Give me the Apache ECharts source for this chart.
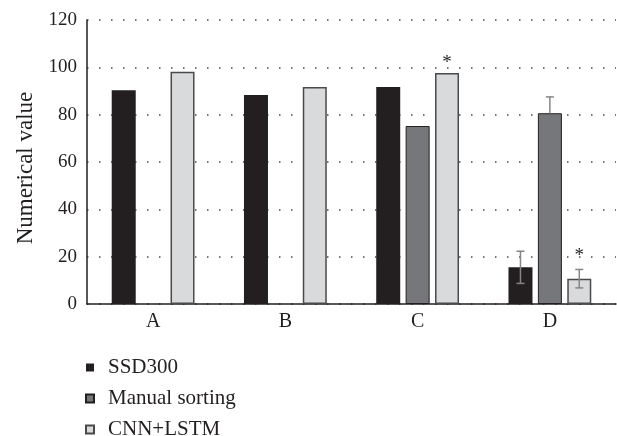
<!DOCTYPE html>
<html>
<head>
<meta charset="utf-8">
<script src="https://cdn.jsdelivr.net/npm/echarts@6/dist/echarts.min.js"></script>
<style>
  html, body { margin: 0; padding: 0; background: #fff; }
  #chart { width: 617px; height: 436px; }
</style>
</head>
<body>
<div id="chart"></div>
<script>
// Categories and values per method
const categories = ['A', 'B', 'C', 'D'];
const seriesNames = ['SSD300', 'Manual sorting', 'CNN+LSTM'];
const ssd300 = [90.3, 88.3, 91.7, 15.5];
const manualSorting = [null, null, 75.2, 80.6];
const cnnLstm = [98.1, 91.7, 97.6, 10.7];

// Error bar extents (below / above the bar value)
const ssd300ErrLow = [null, null, null, 6.8];
const ssd300ErrHigh = [null, null, null, 6.8];
const manualErrLow = [null, null, null, 0];
const manualErrHigh = [null, null, null, 6.9];
const cnnLstmErrLow = [null, null, null, 3.9];
const cnnLstmErrHigh = [null, null, null, 3.9];

// Significance marks over CNN+LSTM bars
const cnnLstmMarks = ['', '', '*', '*'];

const yTicks = { min: 0, max: 120, interval: 20 };

const FONT = '"Liberation Serif", "DejaVu Serif", serif';
const INK = '#231f20';
const BAR_W = 24;
const BAR_GAP = 0.225;

const colors = ['#231f20', '#76777a', '#d9dadc'];
const borders = [
  { borderColor: '#231f20', borderWidth: 0 },
  { borderColor: '#231f20', borderWidth: 1 },
  { borderColor: '#4a4a4a', borderWidth: 1.5 }
];

const values = [ssd300, manualSorting, cnnLstm];
const errLow = [ssd300ErrLow, manualErrLow, cnnLstmErrLow];
const errHigh = [ssd300ErrHigh, manualErrHigh, cnnLstmErrHigh];
const marks = [null, null, cnnLstmMarks];

const barSeries = seriesNames.map((name, i) => ({
  name: name,
  type: 'bar',
  data: values[i].map(v => (v == null ? '-' : v)),
  barWidth: BAR_W,
  barGap: (BAR_GAP * 100) + '%',
  itemStyle: Object.assign({ color: colors[i] }, borders[i]),
  emphasis: { disabled: true },
  z: 2
}));

// Error bars and marks drawn in the slot of each bar series
const overlaySeries = seriesNames.map((name, i) => {
  const data = [];
  categories.forEach((c, k) => {
    if (values[i][k] == null) return;
    data.push([k, values[i][k],
      errLow[i][k] == null ? 0 : errLow[i][k],
      errHigh[i][k] == null ? 0 : errHigh[i][k],
      marks[i] ? marks[i][k] : '']);
  });
  const slot = (i - 1) * BAR_W * (1 + BAR_GAP);
  return {
    type: 'custom',
    silent: true,
    z: 5,
    data: data,
    encode: { x: 0, y: 1 },
    renderItem: function (params, api) {
      const k = api.value(0);
      const v = api.value(1);
      const lo = api.value(2);
      const hi = api.value(3);
      const mark = api.value(4);
      const children = [];
      const center = api.coord([k, v]);
      const x = center[0] + slot;
      const yLo = api.coord([k, v - lo])[1];
      const yHi = api.coord([k, v + hi])[1];
      const lineStyle = { stroke: '#858585', lineWidth: 1.5 };
      if (lo > 0 || hi > 0) {
        children.push({ type: 'line', shape: { x1: x, y1: yLo, x2: x, y2: yHi }, style: lineStyle });
        if (hi > 0) children.push({ type: 'line', shape: { x1: x - 4, y1: yHi, x2: x + 4, y2: yHi }, style: lineStyle });
        if (lo > 0) children.push({ type: 'line', shape: { x1: x - 4, y1: yLo, x2: x + 4, y2: yLo }, style: lineStyle });
      }
      if (mark) {
        const top = Math.min(yHi, center[1]);
        children.push({
          type: 'text',
          style: {
            text: mark, x: x, y: top - (hi > 0 ? 13 : 10),
            align: 'center', verticalAlign: 'middle',
            font: '19px ' + FONT, fill: INK
          }
        });
      }
      return { type: 'group', children: children };
    }
  };
});

const chart = echarts.init(document.getElementById('chart'), null, { renderer: 'canvas' });
chart.setOption({
  animation: false,
  backgroundColor: '#ffffff',
  grid: { left: 87, right: 1, top: 20, bottom: 132, containLabel: false },
  legend: {
    data: seriesNames,
    orient: 'vertical',
    left: 80,
    top: 352,
    height: 120,
    icon: 'rect',
    itemWidth: 8,
    itemHeight: 8,
    itemGap: 10,
    selectedMode: false,
    textStyle: { fontFamily: FONT, fontSize: 21, color: INK, padding: [0, 0, 0, 9] }
  },
  xAxis: {
    type: 'category',
    data: categories,
    axisLine: { lineStyle: { color: INK, width: 1.5 } },
    axisTick: { show: false },
    axisLabel: { fontFamily: FONT, fontSize: 20, color: INK, margin: 8 }
  },
  yAxis: {
    type: 'value',
    min: yTicks.min,
    max: yTicks.max,
    interval: yTicks.interval,
    name: 'Numerical value',
    nameLocation: 'middle',
    nameGap: 50,
    nameTextStyle: { fontFamily: FONT, fontSize: 23, color: INK, padding: [0, 12, 0, 0] },
    axisLine: { show: true, lineStyle: { color: INK, width: 1.5 } },
    axisTick: { show: false },
    axisLabel: { fontFamily: FONT, fontSize: 19, color: INK, margin: 10 },
    splitLine: { show: true, lineStyle: { color: '#4a4a4a', width: 1.5, type: [1.5, 10.5] } }
  },
  series: barSeries.concat(overlaySeries)
});
</script>
</body>
</html>
